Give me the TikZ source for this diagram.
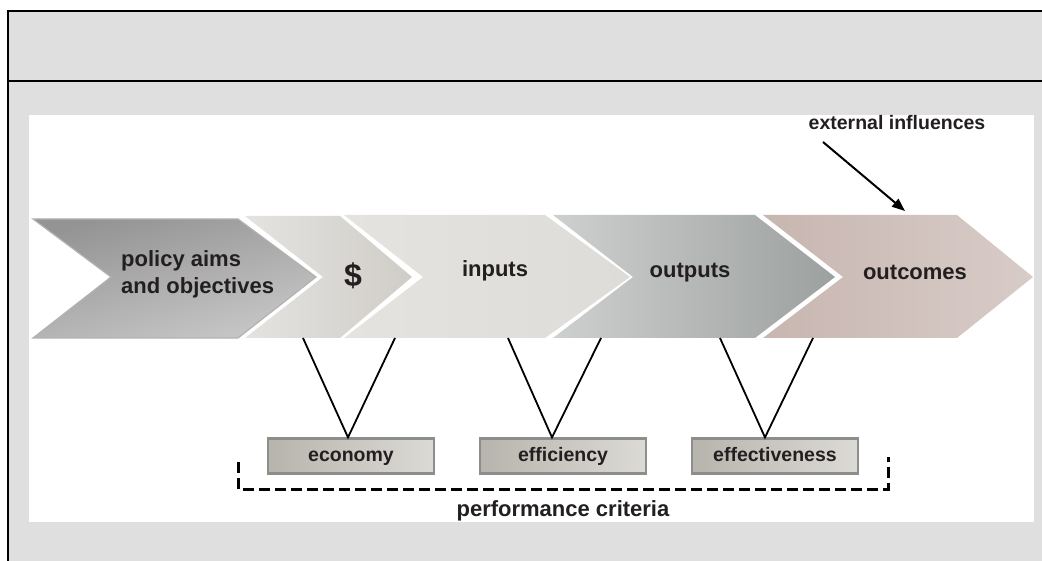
\documentclass[tikz,border=0pt]{standalone}
\usepackage{fontspec}
\setmainfont{Liberation Sans}
\usetikzlibrary{arrows.meta}
\definecolor{bg}{HTML}{DFDFDF}
\definecolor{txt}{HTML}{231F20}
\definecolor{critborder}{HTML}{8B8E8A}
\definecolor{critL}{HTML}{B7B4AD}
\definecolor{critR}{HTML}{DCDAD5}
\begin{document}
\begin{tikzpicture}[x=1pt,y=-1pt,
  lbl/.style={font=\bfseries\fontsize{22}{27}\selectfont, text=txt, inner sep=0pt},
  crit/.style={draw=critborder, line width=2.2pt, left color=critL, right color=critR,
    minimum width=166pt, minimum height=35pt, inner sep=0pt, text height=14pt, text depth=4pt,
    font=\bfseries\fontsize{19.5}{22}\selectfont, text=txt},
  vline/.style={line width=1.8pt, draw=black}]
\useasboundingbox (0,0) rectangle (1042,561);
% frame
\fill[white] (0,0) rectangle (1042,561);
\fill[bg] (8,11) rectangle (1042,561);
\draw[line width=1.2pt] (8,561) -- (8,11) -- (1042,11);
\draw[line width=1.2pt] (8,81) -- (1042,81);
\fill[white] (29,115) rectangle (1034,522);
% chevrons
\shade[top color=black!42, bottom color=black!22, shading angle=15, draw=black!30, line width=1.2pt]
  (33,219) -- (238,219) -- (316,277) -- (238,338) -- (33,338) -- (111,277) -- cycle;
\shade[left color={rgb,255:red,228;green,227;blue,224}, right color={rgb,255:red,208;green,205;blue,200}]
  (245,216) -- (340,216) -- (412,277) -- (340,338) -- (245,338) -- (323,277) -- cycle;
\shade[left color={rgb,255:red,228;green,227;blue,224}, middle color={rgb,255:red,208;green,205;blue,199}, right color={rgb,255:red,222;green,220;blue,216}]
  (344,215) -- (545,215) -- (630,277) -- (545,338) -- (344,338) -- (423,277) -- cycle;
\shade[left color={rgb,255:red,206;green,208;blue,207}, middle color={rgb,255:red,143;green,148;blue,147}, right color={rgb,255:red,156;green,160;blue,159}]
  (553,215) -- (755,215) -- (835,277) -- (755,338) -- (553,338) -- (633,277) -- cycle;
\shade[left color={rgb,255:red,200;green,182;blue,176}, middle color={rgb,255:red,184;green,163;blue,156}, right color={rgb,255:red,216;green,204;blue,200}]
  (763,215) -- (957,215) -- (1033,277) -- (957,338) -- (763,338) -- (843,277) -- cycle;
% chevron labels
\node[lbl, align=left, anchor=west] (policy) at (121,274) {policy aims\\and objectives};
\node[lbl, font=\bfseries\fontsize{32}{32}\selectfont] (dollar) at (353,276) {\$};
\node[lbl, anchor=base] (inputs) at (495,277) {inputs};
\node[lbl, anchor=base] (outputs) at (690,278) {outputs};
\node[lbl, anchor=base] (outcomes) at (915,280) {outcomes};
% external influences
\node[lbl, font=\bfseries\fontsize{19.5}{22}\selectfont, anchor=base] (ext) at (897,130) {external influences};
\coordinate (extS) at (823,142);
\coordinate (extE) at (905,211);
\draw[line width=2pt, -{Triangle[length=13pt,width=10pt]}] (extS) -- (extE);
% criteria boxes
\node[crit] (econ) at (351,456) {economy};
\node[crit] (effic) at (563,456) {efficiency};
\node[crit] (effect) at (775,456) {effectiveness};
% V connectors
\coordinate (a1) at (303,338); \coordinate (b1) at (395,338);
\coordinate (a2) at (508,338); \coordinate (b2) at (601,338);
\coordinate (a3) at (720,338); \coordinate (b3) at (813,338);
\draw[vline] (a1) -- ([xshift=-3pt]econ.north) -- (b1);
\draw[vline] (a2) -- ([xshift=-11pt]effic.north) -- (b2);
\draw[vline] (a3) -- ([xshift=-10pt]effect.north) -- (b3);
% dashed bracket
\coordinate (dl) at (238,462); \coordinate (dlb) at (238,489);
\coordinate (drb) at (888,489); \coordinate (dr) at (888,457);
\draw[line width=3pt, dash pattern=on 11pt off 5pt] (dl) -- (dlb) -- (drb) -- (dr);
\node[lbl, anchor=base] (perf) at (563,516) {performance criteria};
\end{tikzpicture}
\end{document}
